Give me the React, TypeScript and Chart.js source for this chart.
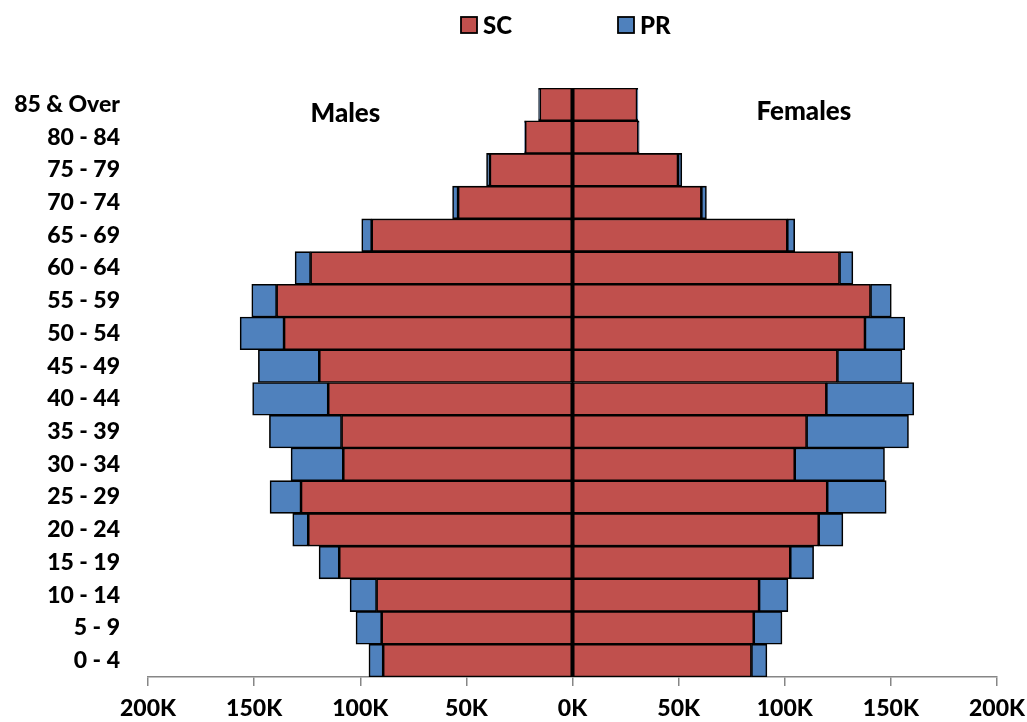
import React, { useEffect, useRef } from "react";
import { Chart, registerables } from "chart.js";

Chart.register(...registerables);

// Age groups, top to bottom
const ageGroups = [
  "85 & Over", "80 - 84", "75 - 79", "70 - 74", "65 - 69", "60 - 64",
  "55 - 59", "50 - 54", "45 - 49", "40 - 44", "35 - 39", "30 - 34",
  "25 - 29", "20 - 24", "15 - 19", "10 - 14", "5 - 9", "0 - 4",
];

// Values in thousands
const maleSC = [15.4, 22.3, 38.9, 53.9, 94.6, 123.4, 139.4, 135.9, 119.3, 115.1, 108.8, 108.0, 127.9, 124.5, 109.9, 92.3, 89.9, 89.2];
const malePR = [0.6, 0.3, 1.6, 2.6, 4.7, 7.3, 11.7, 20.7, 28.7, 35.6, 34.0, 24.6, 14.6, 7.3, 9.5, 12.5, 12.1, 6.7];
const femaleSC = [30.4, 31.0, 49.7, 60.7, 101.2, 125.8, 140.4, 137.8, 124.8, 119.6, 110.3, 104.7, 120.0, 116.0, 102.6, 87.9, 85.4, 84.3];
const femalePR = [0.4, 0.4, 1.8, 2.4, 3.5, 6.3, 9.8, 18.7, 30.4, 41.2, 48.0, 42.3, 27.8, 11.4, 11.0, 13.6, 13.3, 7.3];

const seriesNames = ["SC", "PR"];
const sideLabels = ["Males", "Females"];
const sideLabelValues = [-107, 109];
const axisMin = -200;
const axisMax = 200;
const axisStep = 50;

const SC_COLOR = "#C0504D";
const PR_COLOR = "#4F81BD";
const FONT = "Lato, 'Liberation Sans', sans-serif";

export default function App() {
  const canvasRef = useRef<HTMLCanvasElement | null>(null);

  useEffect(() => {
    if (!canvasRef.current) return;

    const legendPlugin = {
      id: "customLegend",
      afterDraw(chart: any) {
        const { ctx, chartArea } = chart;
        const cx = (chartArea.left + chartArea.right) / 2;
        const items = [
          { text: seriesNames[0], color: SC_COLOR },
          { text: seriesNames[1], color: PR_COLOR },
        ];
        ctx.save();
        ctx.font = `900 24px ${FONT}`;
        ctx.textBaseline = "middle";
        ctx.textAlign = "left";
        let x = cx - 111.5;
        const yc = 25;
        items.forEach((it) => {
          ctx.fillStyle = it.color;
          ctx.fillRect(x, yc - 8, 16, 16);
          ctx.lineWidth = 1.8;
          ctx.strokeStyle = "#000";
          ctx.strokeRect(x, yc - 8, 16, 16);
          ctx.fillStyle = "#000";
          ctx.fillText(it.text, x + 22, yc + 1);
          x += 157;
        });
        ctx.restore();
      },
    };

    const zeroLinePlugin = {
      id: "zeroLine",
      afterDatasetsDraw(chart: any) {
        const { ctx, chartArea } = chart;
        const x0 = chart.scales.x.getPixelForValue(0);
        ctx.save();
        ctx.strokeStyle = "#000";
        ctx.lineWidth = 2;
        ctx.beginPath();
        ctx.moveTo(x0, chartArea.top);
        ctx.lineTo(x0, chartArea.bottom);
        ctx.stroke();
        ctx.restore();
      },
    };

    const sidePlugin = {
      id: "sideLabels",
      afterDraw(chart: any) {
        const { ctx } = chart;
        const xs = chart.scales.x;
        const ys = chart.scales.y;
        const yTop = ys.getPixelForValue(0);
        ctx.save();
        ctx.font = `900 26px ${FONT}`;
        ctx.fillStyle = "#000";
        ctx.textAlign = "center";
        ctx.textBaseline = "middle";
        ctx.fillText(sideLabels[0], xs.getPixelForValue(sideLabelValues[0]), yTop + 9);
        ctx.fillText(sideLabels[1], xs.getPixelForValue(sideLabelValues[1]), yTop + 7);
        ctx.restore();
      },
    };

    const common = {
      borderColor: "#000",
      borderWidth: 1.6,
      borderSkipped: false,
      barPercentage: 1,
      categoryPercentage: 1,
    };

    const chart = new Chart(canvasRef.current, {
      type: "bar",
      data: {
        labels: ageGroups,
        datasets: [
          { label: seriesNames[0], data: maleSC.map((v) => -v), backgroundColor: SC_COLOR, ...common },
          { label: seriesNames[0], data: femaleSC, backgroundColor: SC_COLOR, ...common },
          { label: seriesNames[1], data: malePR.map((v) => -v), backgroundColor: PR_COLOR, ...common },
          { label: seriesNames[1], data: femalePR, backgroundColor: PR_COLOR, ...common },
        ] as any,
      },
      options: {
        indexAxis: "y",
        animation: false,
        responsive: true,
        maintainAspectRatio: false,
        layout: { padding: { top: 88, right: 30, bottom: 0, left: 0 } },
        plugins: {
          legend: { display: false },
          tooltip: { enabled: false },
        },
        scales: {
          x: {
            stacked: true,
            min: axisMin,
            max: axisMax,
            ticks: {
              stepSize: axisStep,
              color: "#000",
              font: { family: FONT, size: 23, weight: "900" },
              padding: 9,
              maxRotation: 0,
              callback: (v: any) => `${Math.abs(Number(v))}K`,
            },
            grid: {
              display: true,
              drawOnChartArea: false,
              drawTicks: true,
              tickLength: 9,
              color: "#868686",
              lineWidth: 1.5,
            },
            border: { display: true, color: "#868686", width: 1.5 },
            afterFit: (scale: any) => {
              scale.height = 45;
              scale.paddingRight = 0;
              scale.paddingLeft = 0;
            },
          },
          y: {
            stacked: true,
            ticks: {
              color: "#000",
              font: { family: FONT, size: 23, weight: "900" },
              padding: 28,
              autoSkip: false,
            },
            grid: { display: false, drawTicks: false },
            border: { display: false },
            afterFit: (scale: any) => {
              scale.width = 148;
            },
          },
        },
      } as any,
      plugins: [legendPlugin, zeroLinePlugin, sidePlugin],
    });

    return () => chart.destroy();
  }, []);

  return (
    <div style={{ position: "fixed", left: 0, top: 0, width: 1027, height: 722, background: "#fff" }}>
      <canvas ref={canvasRef} />
    </div>
  );
}
